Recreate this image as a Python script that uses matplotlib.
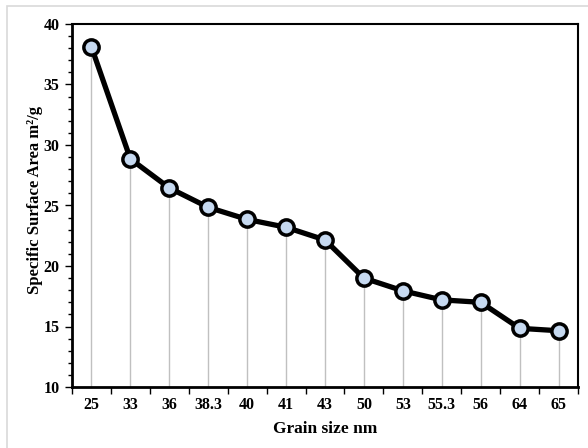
import numpy as np
import matplotlib
matplotlib.use('Agg')
import matplotlib.pyplot as plt
from matplotlib.patches import Rectangle

grain_size = ['25', '33', '36', '38.3', '40', '41', '43', '50', '53', '55.3', '56', '64', '65']
surface_area = [38.1, 28.85, 26.45, 24.85, 23.85, 23.2, 22.15, 19.0, 17.95, 17.2, 17.0, 14.85, 14.65]

plt.rcParams['font.family'] = ['Liberation Serif', 'DejaVu Serif']
plt.rcParams['font.weight'] = 'bold'

W, H = 588, 448
fig = plt.figure(figsize=(W / 100, H / 100), dpi=100)
fig.patch.set_facecolor('white')

# light grey frame of the chart object
fig.add_artist(Rectangle((7 / W, 0 - 0.05), 1.1, 1 - 6 / H + 0.05, transform=fig.transFigure,
                         fill=False, edgecolor='#d9d9d9', linewidth=1.2))

left, right, top, bottom = 72, 578, 24, 387
ax = fig.add_axes([left / W, 1 - bottom / H, (right - left) / W, (bottom - top) / H])

x = np.arange(len(grain_size))
y = np.array(surface_area)

# drop lines
ax.vlines(x, 10, y, colors='#c0c0c0', linewidth=1.0, zorder=1)
ax.plot(x, y, color='black', linewidth=3.8, zorder=2,
        marker='o', markersize=11, markerfacecolor='#c6d9f0',
        markeredgecolor='black', markeredgewidth=2.5)

ax.set_xlim(-0.5, len(grain_size) - 0.5)
ax.set_ylim(10, 40)

ax.set_yticks(np.arange(10, 41, 5))
ax.set_yticks(np.arange(10, 41, 1), minor=True)
ax.set_xticks(np.arange(-0.5, len(grain_size), 1))
ax.set_xticklabels([])
ax.set_xticks(x, minor=True)
ax.set_xticklabels(grain_size, minor=True)

ax.tick_params(axis='y', which='major', direction='out', length=5, width=1, labelsize=11.5, pad=4)
ax.tick_params(axis='y', which='minor', direction='out', length=3, width=1)
ax.tick_params(axis='x', which='major', direction='out', length=5, width=1)
ax.tick_params(axis='x', which='minor', length=0, labelsize=11.5, pad=7)

for s in ax.spines.values():
    s.set_linewidth(1.5)
ax.spines['left'].set_linewidth(2)
ax.spines['bottom'].set_linewidth(2)

ax.set_xlabel('Grain size nm', fontsize=12.5, fontweight='bold', labelpad=6)
ax.set_ylabel('Specific Surface Area m²/g', fontsize=12, fontweight='bold')
ax.yaxis.set_label_coords(-0.058, 0.515)

plt.savefig('out.png', dpi=100)
